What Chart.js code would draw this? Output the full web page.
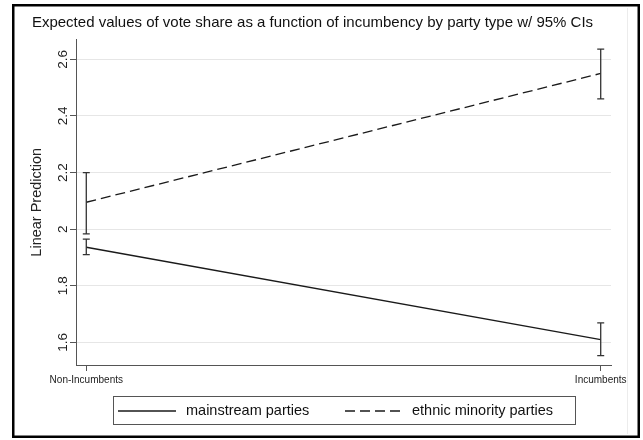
<!DOCTYPE html>
<html>
<head>
<meta charset="utf-8">
<script src="https://cdn.jsdelivr.net/npm/chart.js@4.4.1/dist/chart.umd.min.js"></script>
<style>
    html, body { margin: 0; padding: 0; background: #fff; }
</style>
</head>
<body>
<canvas id="myChart" width="643" height="440"></canvas>
<script>
const groups = ['Non-Incumbents', 'Incumbents'];
const groupX = [0, 1];

const mainstream = [1.936, 1.61];
const mainstreamLo = [1.91, 1.553];
const mainstreamHi = [1.965, 1.669];

const ethnic = [2.095, 2.55];
const ethnicLo = [1.983, 2.46];
const ethnicHi = [2.20, 2.636];

const yTicks = [1.6, 1.8, 2, 2.2, 2.4, 2.6];
const yTickLabels = ['1.6', '1.8', '2', '2.2', '2.4', '2.6'];

const seriesNames = ['mainstream parties', 'ethnic minority parties'];

const FONT = '"Liberation Sans", Arial, Helvetica, sans-serif';
Chart.defaults.font.family = FONT;
Chart.defaults.color = '#222';

const ctx = document.getElementById('myChart');

// CI whiskers, placed through the chart's own scales
const errorBars = {
    id: 'errorBars',
    afterDatasetsDraw(chart) {
        const {ctx, scales: {x, y}} = chart;
        ctx.save();
        ctx.strokeStyle = '#333';
        ctx.lineWidth = 1.3;
        [[mainstreamLo, mainstreamHi], [ethnicLo, ethnicHi]].forEach(([lo, hi]) => {
            groupX.forEach((gx, i) => {
                const px = x.getPixelForValue(gx);
                const top = y.getPixelForValue(hi[i]);
                const bot = y.getPixelForValue(lo[i]);
                ctx.beginPath();
                ctx.moveTo(px, top); ctx.lineTo(px, bot);
                ctx.moveTo(px - 3.5, top); ctx.lineTo(px + 3.5, top);
                ctx.moveTo(px - 3.5, bot); ctx.lineTo(px + 3.5, bot);
                ctx.stroke();
            });
        });
        ctx.restore();
    }
};

// outer frame + boxed legend
const frame = {
    id: 'frame',
    beforeDraw(chart) {
        const c = chart.ctx;
        c.save();
        c.fillStyle = '#fff';
        c.fillRect(0, 0, chart.width, chart.height);
        c.restore();
    },
    afterDraw(chart) {
        const c = chart.ctx;
        c.save();
        c.strokeStyle = '#ececec';
        c.lineWidth = 1;
        c.beginPath();
        c.moveTo(627.5, 8); c.lineTo(627.5, 434);
        c.stroke();

        c.strokeStyle = '#000';
        c.lineWidth = 2.5;
        c.strokeRect(13.25, 5.25, 625.5, 431.5);

        // legend
        c.strokeStyle = '#555';
        c.lineWidth = 1;
        c.strokeRect(113.5, 396.5, 462, 28);

        const items = [
            {x0: 118, x1: 176, tx: 186},
            {x0: 345, x1: 402, tx: 412}
        ];
        c.font = '14.5px ' + FONT;
        c.textBaseline = 'middle';
        c.fillStyle = '#111';
        chart.data.datasets.forEach((ds, i) => {
            const it = items[i];
            c.strokeStyle = ds.borderColor;
            c.lineWidth = ds.borderWidth;
            c.setLineDash(ds.borderDash || []);
            c.beginPath();
            c.moveTo(it.x0, 411); c.lineTo(it.x1, 411);
            c.stroke();
            c.setLineDash([]);
            c.fillText(seriesNames[i], it.tx, 411);
        });
        c.restore();
    }
};

new Chart(ctx, {
    type: 'line',
    data: {
        datasets: [{
            label: seriesNames[0],
            data: groupX.map((x, i) => ({x: x, y: mainstream[i]})),
            borderColor: '#1a1a1a',
            borderWidth: 1.3,
            pointRadius: 0,
            fill: false
        }, {
            label: seriesNames[1],
            data: groupX.map((x, i) => ({x: x, y: ethnic[i]})),
            borderColor: '#1a1a1a',
            borderWidth: 1.3,
            borderDash: [10, 5],
            pointRadius: 0,
            fill: false
        }]
    },
    options: {
        responsive: false,
        animation: false,
        devicePixelRatio: 1,
        layout: {
            padding: {left: 14, right: 32, top: 0, bottom: 55}
        },
        plugins: {
            legend: {display: false},
            tooltip: {enabled: false},
            title: {
                display: true,
                text: 'Expected values of vote share as a function of incumbency by party type w/ 95% CIs',
                font: {size: 15, weight: 'normal'},
                color: '#111',
                padding: {top: 13.5, bottom: 8}
            }
        },
        scales: {
            x: {
                type: 'linear',
                min: -0.02,
                max: 1.02,
                afterBuildTicks: (s) => { s.ticks = groupX.map(v => ({value: v})); },
                afterFit: (s) => { s.height = 20; s.paddingLeft = 0; s.paddingRight = 0; },
                ticks: {
                    autoSkip: false,
                    minRotation: 0,
                    maxRotation: 0,
                    padding: 3,
                    font: {size: 10},
                    color: '#222',
                    callback: (v, i) => groups[i]
                },
                grid: {drawOnChartArea: false, tickColor: '#555', tickLength: 6},
                border: {color: '#555', width: 1}
            },
            y: {
                type: 'linear',
                min: 1.52,
                max: 2.67,
                afterBuildTicks: (s) => { s.ticks = yTicks.map(v => ({value: v})); },
                afterFit: (s) => { s.width = 62; s.paddingTop = 0; s.paddingBottom = 0; },
                ticks: {
                    autoSkip: false,
                    minRotation: 90,
                    maxRotation: 90,
                    crossAlign: 'center',
                    padding: -3,
                    font: {size: 13.5},
                    color: '#1a1a1a',
                    callback: (v, i) => yTickLabels[i]
                },
                grid: {color: '#e6e6e6', tickColor: '#555', tickLength: 6},
                border: {color: '#555', width: 1},
                title: {
                    display: true,
                    text: 'Linear Prediction',
                    font: {size: 14.5},
                    color: '#222',
                    padding: {top: 14, bottom: 0}
                }
            }
        }
    },
    plugins: [errorBars, frame]
});
</script>
</body>
</html>
